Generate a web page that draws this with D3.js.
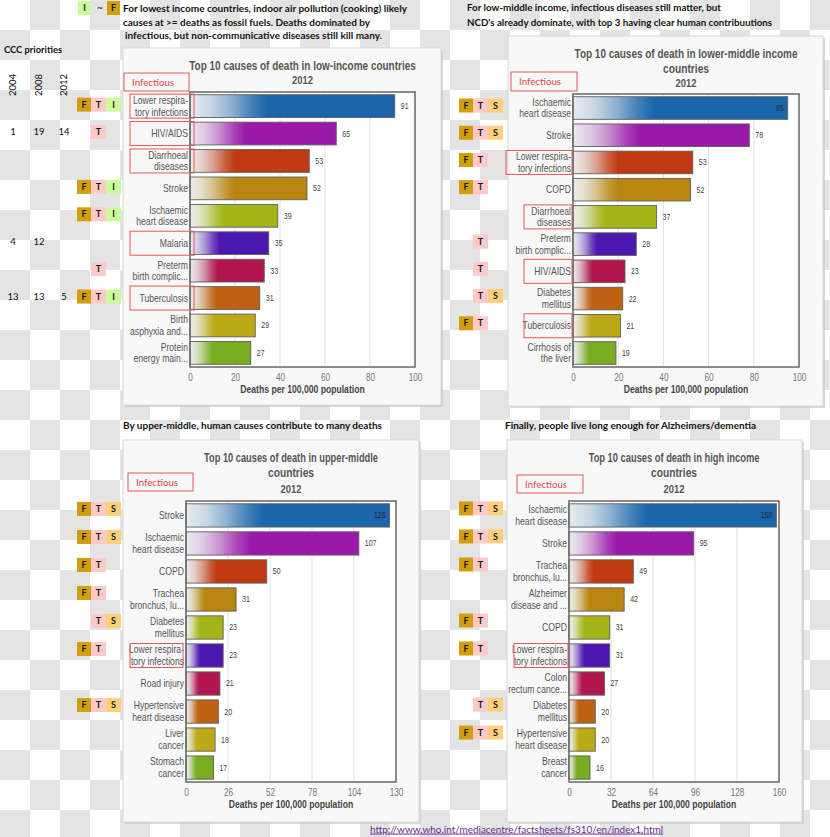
<!DOCTYPE html>
<html><head><meta charset="utf-8">
<script src="https://cdn.jsdelivr.net/npm/d3@7"></script>
<style>body{margin:0;background:#fff}svg{display:block}</style>
</head><body>
<svg id="c" width="830" height="837"></svg>
<script>
// ---------------- DATA ----------------
const lowTitle = ["Top 10 causes of death in low-income countries", "2012"];
const lowCauses = ["Lower respira-\ntory infections","HIV/AIDS","Diarrhoeal\ndiseases","Stroke","Ischaemic\nheart disease","Malaria","Preterm\nbirth complic...","Tuberculosis","Birth\nasphyxia and...","Protein\nenergy main..."];
const lowValues = [91,65,53,52,39,35,33,31,29,27];
const lowBadges = ["FTI","T","","FTI","FTI","","T","FTI","",""];
const lowInfectious = [1,1,1,0,0,1,0,1,0,0];
const lowTicks = [0,20,40,60,80,100];

const lmTitle = ["Top 10 causes of death in lower-middle income", "countries", "2012"];
const lmCauses = ["Ischaemic\nheart disease","Stroke","Lower respira-\ntory infections","COPD","Diarrhoeal\ndiseases","Preterm\nbirth complic...","HIV/AIDS","Diabetes\nmellitus","Tuberculosis","Cirrhosis of\nthe liver"];
const lmValues = [95,78,53,52,37,28,23,22,21,19];
const lmBadges = ["FTS","FTS","FT","FT","","T","T","TS","FT",""];
const lmInfectious = [0,0,1,0,1,0,1,0,1,0];
const lmTicks = [0,20,40,60,80,100];

const umTitle = ["Top 10 causes of death in upper-middle", "countries", "2012"];
const umCauses = ["Stroke","Ischaemic\nheart disease","COPD","Trachea\nbronchus, lu...","Diabetes\nmellitus","Lower respira-\ntory infections","Road injury","Hypertensive\nheart disease","Liver\ncancer","Stomach\ncancer"];
const umValues = [126,107,50,31,23,23,21,20,18,17];
const umBadges = ["FTS","FTS","FT","FT","TS","FT","","FTS","",""];
const umInfectious = [0,0,0,0,0,1,0,0,0,0];
const umTicks = [0,26,52,78,104,130];

const hiTitle = ["Top 10 causes of death in high income", "countries", "2012"];
const hiCauses = ["Ischaemic\nheart disease","Stroke","Trachea\nbronchus, lu...","Alzheimer\ndisease and ...","COPD","Lower respira-\ntory infections","Colon\nrectum cance...","Diabetes\nmellitus","Hypertensive\nheart disease","Breast\ncancer"];
const hiValues = [158,95,49,42,31,31,27,20,20,16];
const hiBadges = ["FTS","FTS","FT","","FT","FT","","TS","FTS",""];
const hiInfectious = [0,0,0,0,0,1,0,0,0,0];
const hiTicks = [0,32,64,96,128,160];

const cccYears = ["2004","2008","2012"];
const ccc2004 = ["","1","","","","4","","13","",""];
const ccc2008 = ["","19","","","","12","","13","",""];
const ccc2012 = ["","14","","","","","","5","",""];

const headerTL = ["For lowest income countries, indoor air pollution (cooking) likely",
                  "causes at >= deaths as fossil fuels.  Deaths dominated by",
                  " infectious, but non-communicative diseases still kill many."];
const headerTR = ["For low-middle income, infectious diseases still matter, but",
                  "NCD's already dominate, with top 3 having clear human contribuutions"];
const headerBL = ["By upper-middle, human causes contribute to many deaths"];
const headerBR = ["Finally, people live long enough for Alzheimers/dementia"];
const axisTitle = "Deaths per 100,000 population";
const sourceUrl = "http://www.who.int/mediacentre/factsheets/fs310/en/index1.html";

// ---------------- STYLE ----------------
const fNarrow = "'Liberation Sans',Arial,sans-serif";
const fBody = "Lato,'Open Sans',sans-serif";
const barColors = ["#1b65ab","#9a19a9","#bf3a10","#b8860f","#a4b617","#4b17af","#b0154c","#bf6111","#bca917","#79ad21"];
const badgeFill = {F:"#d29e0d", T:"#fdcaca", I:"#ccfb9e", S:"#fdd07c"};

const svg = d3.select("#c");

// checkerboard background
const cols = d3.range(Math.ceil(830/30)), rows = d3.range(Math.ceil(837/30));
const cells = rows.flatMap(r => cols.map(c => ({r, c}))).filter(d => (d.r + d.c) % 2 === 1);
svg.append("g").selectAll("rect").data(cells).join("rect")
  .attr("x", d => d.c*30).attr("y", d => d.r*30).attr("width", 30).attr("height", 30)
  .attr("fill", "#e4e4e4");

// gradients
const defs = svg.append("defs");
barColors.forEach((c, i) => {
  const g = defs.append("linearGradient").attr("id", "g"+i)
    .attr("x1", 0).attr("x2", 1).attr("y1", 0).attr("y2", 0);
  const m = t => d3.interpolateRgb("#eef0f1", c)(t);
  [[0,0.03],[0.1,0.18],[0.2,0.45],[0.3,0.8],[0.38,1],[1,1]].forEach(([o,t]) =>
    g.append("stop").attr("offset", o).attr("stop-color", m(t)));
});

function condense(t, k = 0.82) {
  const w = t.node().getComputedTextLength();
  t.attr("textLength", w * k).attr("lengthAdjust", "spacingAndGlyphs");
}

function txt(g, x, y, s, opt = {}) {
  const t = g.append("text").attr("x", x).attr("y", y).attr("dy", "0.35em")
    .attr("font-family", opt.family || fBody).attr("font-size", opt.size || 10)
    .attr("font-weight", opt.weight || "normal").attr("fill", opt.fill || "#111")
    .attr("text-anchor", opt.anchor || "start").text(s);
  if (opt.width) t.attr("textLength", opt.width).attr("lengthAdjust", "spacingAndGlyphs");
  else if (opt.family === fNarrow) condense(t);
  return t;
}

// horizontally scaled text (keeps the real bounding box narrow)
function scaledTxt(g, x, y, s, target, opt = {}) {
  const holder = g.append("g");
  const t = holder.append("text").attr("x", 0).attr("y", 0).attr("dy", "0.35em")
    .attr("font-family", opt.family || fNarrow).attr("font-size", opt.size || 12)
    .attr("font-weight", opt.weight || "bold").attr("fill", opt.fill || "#555")
    .attr("text-anchor", "middle").text(s);
  const w = t.node().getComputedTextLength();
  const k = target ? target / w : 0.82;
  holder.attr("transform", `translate(${x},${y}) scale(${k},1)`);
  return t;
}

function badge(g, x, y, w, letter) {
  g.append("rect").attr("x", x).attr("y", y - 7).attr("width", w).attr("height", 14).attr("fill", badgeFill[letter]);
  txt(g, x + w/2, y, letter, {anchor:"middle", weight:"bold", size:9, fill:"#1a1a1a"});
}

function drawPanel(P, L) {
  const g = svg.append("g");
  const [cx, cy, cw, ch] = L.card;
  g.append("rect").attr("x", cx+2).attr("y", cy+2).attr("width", cw).attr("height", ch).attr("fill", "#c9c9c9").attr("opacity", 0.7);
  g.append("rect").attr("x", cx).attr("y", cy).attr("width", cw).attr("height", ch).attr("fill", "#f8f8f8").attr("stroke", "#d8d8d8");

  const x = d3.scaleLinear().domain([P.ticks[0], P.ticks[P.ticks.length-1]]).range([L.plot[0], L.plot[1]]);
  const y = d3.scaleBand().domain(d3.range(P.values.length)).range([L.plot[2], L.plot[3]]).paddingInner(0.17).paddingOuter(0.1);

  // title
  P.title.forEach((s, i) => {
    const last = i === P.title.length - 1;
    scaledTxt(g, L.titleX, L.titleY[i], s, i === 0 ? L.titleW : null, {size: last ? 11.5 : 12.5});
  });

  // Infectious legend box
  const ib = L.infBox;
  g.append("rect").attr("x", ib[0]).attr("y", ib[1]).attr("width", ib[2]).attr("height", ib[3]).attr("fill", "none").attr("stroke", "#e25a5a");
  txt(g, ib[0] + 8, ib[1] + ib[3]/2, "Infectious", {size:10, fill:"#e04848", width:42});

  // plot area
  g.append("rect").attr("x", L.plot[0]).attr("y", L.plot[2]).attr("width", L.plot[1]-L.plot[0]).attr("height", L.plot[3]-L.plot[2]).attr("fill", "#fff");
  g.append("g").selectAll("line").data(P.ticks.slice(1, -1)).join("line")
    .attr("x1", d => x(d)).attr("x2", d => x(d)).attr("y1", L.plot[2]).attr("y2", L.plot[3])
    .attr("stroke", "#e2e2e2");

  // bars
  g.append("g").selectAll("rect").data(P.values).join("rect")
    .attr("x", x(0)).attr("y", (d, i) => y(i)).attr("width", d => x(d) - x(0)).attr("height", y.bandwidth())
    .attr("fill", (d, i) => `url(#g${i})`).attr("stroke", "#5e5e5e").attr("stroke-width", 0.9);

  // value labels
  P.values.forEach((v, i) => {
    const inside = x(v) + 20 > L.plot[1];
    txt(g, inside ? x(v) - 4 : x(v) + 6, y(i) + y.bandwidth()/2, String(v),
      {family:fNarrow, size:8.5, fill: inside ? "#1d2b3a" : "#444", anchor: inside ? "end" : "start"});
  });

  // frame
  g.append("rect").attr("x", L.plot[0]).attr("y", L.plot[2]).attr("width", L.plot[1]-L.plot[0]).attr("height", L.plot[3]-L.plot[2])
    .attr("fill", "none").attr("stroke", "#666").attr("stroke-width", 1.5);

  // x axis
  const ax = g.append("g").attr("transform", `translate(0,${L.plot[3]})`)
    .call(d3.axisBottom(x).tickValues(P.ticks).tickSize(0).tickPadding(7));
  ax.select(".domain").remove();
  ax.selectAll("text").attr("font-family", fNarrow).attr("font-size", 10).attr("fill", "#777")
    .each(function() { condense(d3.select(this)); });
  txt(g, (L.plot[0] + L.plot[1])/2, L.plot[3] + 22, axisTitle, {anchor:"middle", family:fNarrow, weight:"bold", size:10.5, fill:"#444"});

  // category labels
  P.causes.forEach((c, i) => {
    const lines = c.split("\n");
    const cyb = y(i) + y.bandwidth()/2;
    lines.forEach((s, k) => {
      txt(g, L.plot[0] - 2, cyb + (k - (lines.length - 1)/2) * 11.5, s, {anchor:"end", family:fNarrow, size:10.5, fill:"#555"});
    });
    if (P.infectious[i]) {
      const bw = L.boxW(c);
      g.append("rect").attr("x", L.plot[0] + L.boxR - bw).attr("y", cyb - 12).attr("width", bw).attr("height", 24)
        .attr("fill", "none").attr("stroke", "#e25a5a");
    }
  });

  // badges
  const colOf = {F:0, T:1, I:2, S:2};
  const bw = [14, 15, 15];
  P.badges.forEach((b, i) => {
    const by = y(i) + y.bandwidth()/2 + L.badgeDy;
    b.split("").forEach(ch => {
      const c = colOf[ch];
      badge(g, L.badgeX + d3.sum(bw.slice(0, c)), by, bw[c], ch);
    });
    if (P.ranks) P.ranks.forEach((arr, k) => {
      if (arr[i]) txt(g, L.rankX[k], by, arr[i], {anchor:"middle", size:9.5, fill:"#111"});
    });
  });
  return y;
}

// ---- panels ----
drawPanel(
  {title: lowTitle, causes: lowCauses, values: lowValues, badges: lowBadges, infectious: lowInfectious, ticks: lowTicks,
   ranks: [ccc2004, ccc2008, ccc2012]},
  {card:[123,48,318,357], plot:[190,415,92,367], titleX:302.5, titleY:[66,80], titleW:227,
   infBox:[124,73,65,18], boxR:4, boxW: () => 64, badgeX:77, badgeDy:-1.5, rankX:[13,39,64]});

drawPanel(
  {title: lmTitle, causes: lmCauses, values: lmValues, badges: lmBadges, infectious: lmInfectious, ticks: lmTicks},
  {card:[508,36,315,370], plot:[573,799,94,367], titleX:686, titleY:[54,69,83], titleW:223,
   infBox:[511,72,66,19], boxR:-1, boxW: c => c.startsWith("Lower") ? 66 : 48, badgeX:459, badgeDy:-2.5});

drawPanel(
  {title: umTitle, causes: umCauses, values: umValues, badges: umBadges, infectious: umInfectious, ticks: umTicks},
  {card:[123,440,296,382], plot:[186,396,501,782], titleX:291, titleY:[458,473,489], titleW:174,
   infBox:[128,473,65,18], boxR:-3, boxW: () => 53, badgeX:77, badgeDy:-6.5});

drawPanel(
  {title: hiTitle, causes: hiCauses, values: hiValues, badges: hiBadges, infectious: hiInfectious, ticks: hiTicks},
  {card:[507,440,295,382], plot:[569,779,501,782], titleX:674, titleY:[458,473,489], titleW:171,
   infBox:[517,475,66,18], boxR:-1, boxW: () => 54, badgeX:459, badgeDy:-7});

// ---- left table header ----
const hg = svg.append("g");
txt(hg, 4, 49, "CCC priorities", {weight:"bold", size:10, width:58});
cccYears.forEach((s, k) => {
  hg.append("text").attr("transform", `translate(${[13,39,64][k]},85) rotate(-90)`).attr("dy", "0.35em")
    .attr("text-anchor", "middle").attr("font-family", fBody).attr("font-size", 9.5).attr("fill", "#111").text(s);
});

// I ~ F legend
badge(hg, 78, 8, 13, "I");
txt(hg, 100, 7, "~", {anchor:"middle", size:10});
badge(hg, 107, 8, 13, "F");

// ---- header texts ----
const hdr = [
  [headerTL, 123, [8, 22, 35], [284, 247, 257]],
  [headerTR, 467, [7, 22], [254, 305]],
  [headerBL, 123, [425], [259]],
  [headerBR, 505, [425], [251]]
];
hdr.forEach(([lines, x0, ys, ws]) => lines.forEach((s, i) =>
  txt(hg, x0 + (s.startsWith(" ") ? 2 : 0), ys[i], s.trim(), {weight:"bold", size:10, fill:"#111", width: ws[i]})));

// source link
txt(hg, 370, 829, sourceUrl, {size:10, fill:"#6a2a90", width:293}).attr("text-decoration", "underline");
</script>
</body></html>
